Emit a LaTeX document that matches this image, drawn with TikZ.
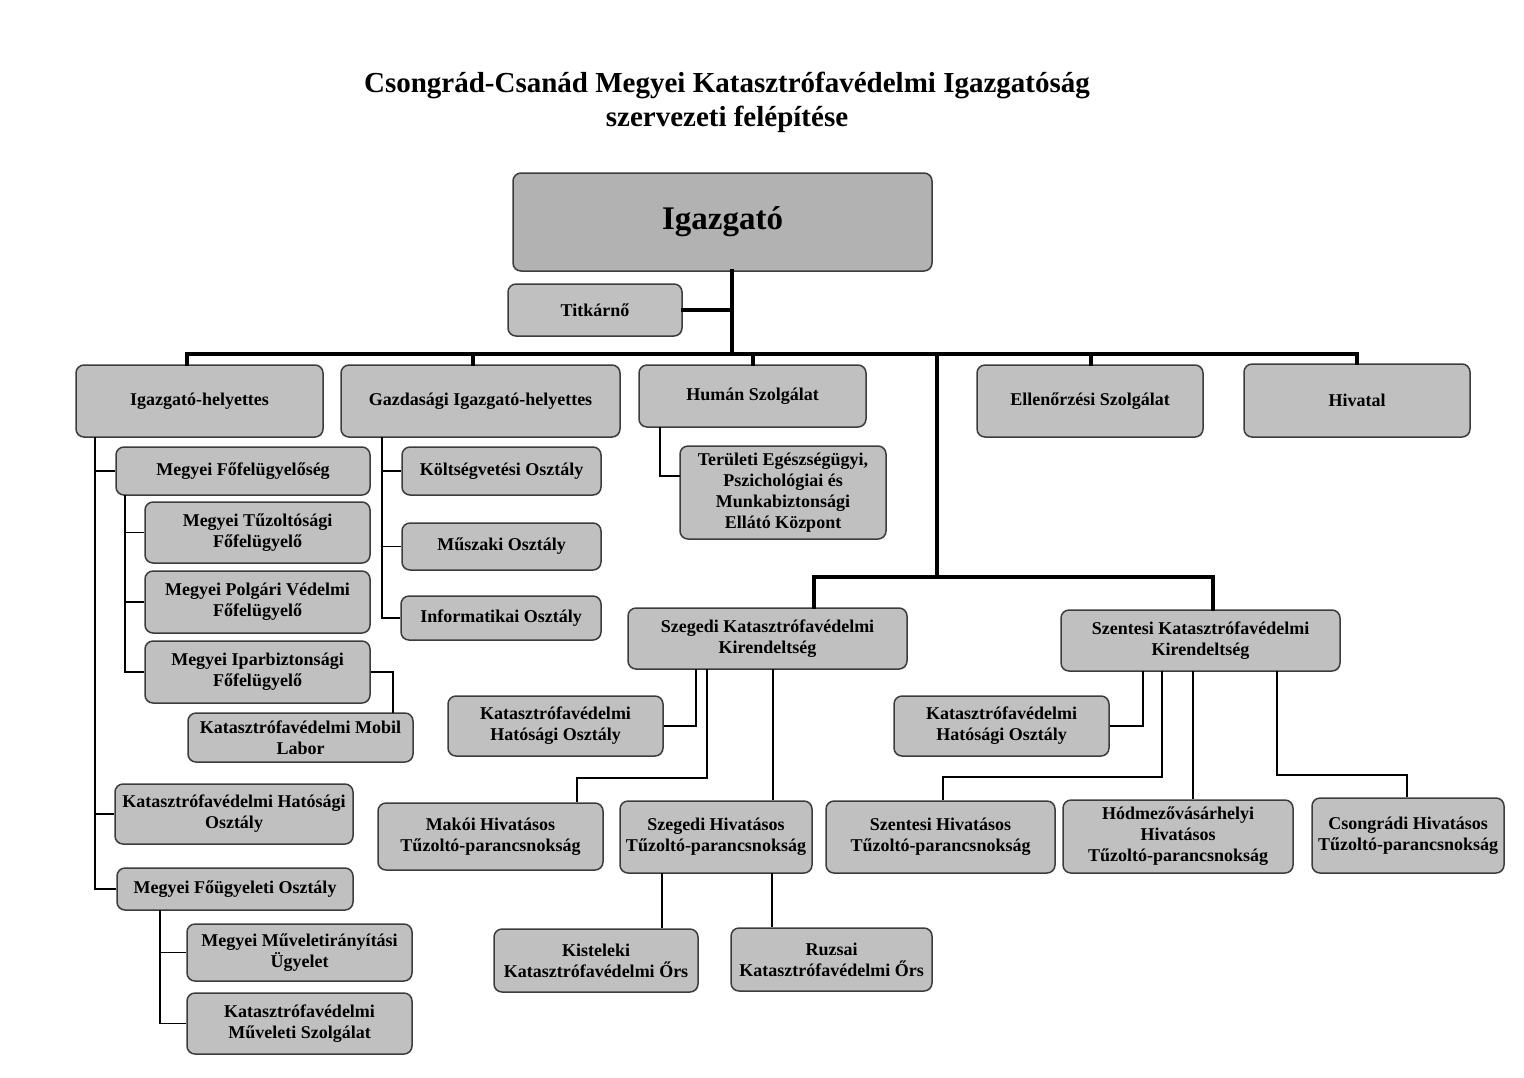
\documentclass[tikz,border=0pt]{standalone}
\usepackage{fontspec}
\setmainfont{Liberation Serif}
\usetikzlibrary{calc}
\definecolor{boxfill}{HTML}{C0C0C0}
\definecolor{topfill}{HTML}{B2B2B2}
\definecolor{boxline}{HTML}{3C3C3C}
\newcommand\bx[7][]{\node[box,#1,minimum width={(#5-#3)*0.5pt},minimum height={(#6-#4)*0.5pt}] (#2) at ({(#3+#5)/2},{(#4+#6)/2}) {#7};}
\begin{document}
\begin{tikzpicture}[x=0.5pt,y=-0.5pt,
  box/.style={draw=boxline,line width=0.75pt,fill=boxfill,rounded corners=4pt,align=center,inner sep=1pt,
    font=\bfseries\fontsize{9}{10.5}\selectfont},
  topbox/.style={fill=topfill,font=\bfseries\fontsize{16.5}{19}\selectfont},
  thin/.style={draw=black,line width=0.65pt},
  thick/.style={draw=black,line width=2.2pt,line cap=rect}]
\useasboundingbox (0,0) rectangle (1524,1077);
\node[align=center,font=\bfseries\fontsize{14.5}{17}\selectfont] (title) at (727,102)
  {Csongrád-Csanád Megyei Katasztrófavédelmi Igazgatóság\\szervezeti felépítése};
% boxes
\bx[topbox]{ig}{513}{173}{932}{271}{Igazgató}
\bx{tit}{508}{284}{682}{336}{Titkárnő}
\bx{ih}{76}{365}{323}{437}{Igazgató-helyettes}
\bx{gih}{341}{365}{620}{437}{Gazdasági Igazgató-helyettes}
\bx{hum}{639}{365}{866}{427}{Humán Szolgálat}
\bx{ell}{977}{365}{1203}{437}{Ellenőrzési Szolgálat}
\bx{hiv}{1244}{364}{1470}{437}{Hivatal}
\bx{mf}{116}{447}{370}{495}{Megyei Főfelügyelőség}
\bx{mtf}{145}{502}{370}{563}{Megyei Tűzoltósági\\Főfelügyelő}
\bx{mpv}{145}{571}{370}{633}{Megyei Polgári Védelmi\\Főfelügyelő}
\bx{mip}{145}{641}{370}{703}{Megyei Iparbiztonsági\\Főfelügyelő}
\bx{kml}{188}{713}{413}{762}{Katasztrófavédelmi Mobil\\Labor}
\bx{kho}{115}{784}{353}{844}{Katasztrófavédelmi Hatósági\\Osztály}
\bx{mfo}{117}{868}{353}{910}{Megyei Főügyeleti Osztály}
\bx{mmu}{187}{924}{412}{981}{Megyei Műveletirányítási\\Ügyelet}
\bx{kms}{187}{993}{412}{1054}{Katasztrófavédelmi\\Műveleti Szolgálat}
\bx{kolt}{402}{447}{601}{495}{Költségvetési Osztály}
\bx{musz}{402}{523}{601}{570}{Műszaki Osztály}
\bx{info}{401}{596}{601}{640}{Informatikai Osztály}
\bx{teru}{680}{446}{886}{539}{Területi Egészségügyi,\\Pszichológiai és\\Munkabiztonsági\\Ellátó Központ}
\bx{szk}{628}{608}{907}{669}{Szegedi Katasztrófavédelmi\\Kirendeltség}
\bx{szkh}{448}{696}{663}{756}{Katasztrófavédelmi\\Hatósági Osztály}
\bx{mak}{378}{803}{603}{870}{Makói Hivatásos\\Tűzoltó-parancsnokság}
\bx{szh}{620}{801}{812}{873}{Szegedi Hivatásos\\Tűzoltó-parancsnokság}
\bx{kis}{494}{929}{698}{992}{Kisteleki\\Katasztrófavédelmi Őrs}
\bx{ruz}{731}{928}{932}{991}{Ruzsai\\Katasztrófavédelmi Őrs}
\bx{stk}{1061}{610}{1340}{671}{Szentesi Katasztrófavédelmi\\Kirendeltség}
\bx{stkh}{894}{696}{1109}{756}{Katasztrófavédelmi\\Hatósági Osztály}
\bx{sth}{826}{801}{1055}{873}{Szentesi Hivatásos\\Tűzoltó-parancsnokság}
\bx{hod}{1063}{800}{1293}{873}{Hódmezővásárhelyi\\Hivatásos\\Tűzoltó-parancsnokság}
\bx{cso}{1312}{798}{1504}{873}{Csongrádi Hivatásos\\Tűzoltó-parancsnokság}
% thick connectors
\coordinate (t1) at (732,271);
\coordinate (bus) at (732,354);
\coordinate (busL) at (187,354);
\coordinate (busR) at (1357,354);
\coordinate (vR) at (937,354);
\coordinate (vRb) at (937,577);
\coordinate (hL) at (814,577);
\coordinate (hR) at (1213,577);
\draw[thick] (t1) -- (bus);
\draw[thick,line width=1.6pt] (tit.east) -- (tit.east -| t1);
\draw[thick] (busL) -- (busR);
\draw[thick] (busL) -- (busL |- ih.north);
\draw[thick] (473,354) coordinate (d2) -- (d2 |- gih.north);
\draw[thick] (753,354) coordinate (d3) -- (d3 |- hum.north);
\draw[thick] (1091,354) coordinate (d4) -- (d4 |- ell.north);
\draw[thick] (busR) -- (busR |- hiv.north);
\draw[thick] (vR) -- (vRb);
\draw[thick] (hL) -- (hR);
\draw[thick] (hL) -- (hL |- szk.north);
\draw[thick] (hR) -- (hR |- stk.north);
% thin connectors left
\coordinate (s1) at (95,437);
\draw[thin] (s1) |- (mf.west);
\draw[thin] (s1) |- (kho.west);
\draw[thin] (s1) |- (mfo.west);
\coordinate (s2) at (125,495);
\draw[thin] (s2) |- (mtf.west);
\draw[thin] (s2) |- (mpv.west);
\draw[thin] (s2) |- (mip.west);
\coordinate (k1) at (393,713);
\draw[thin] (mip.east) -| (k1);
\coordinate (s3) at (160,910);
\draw[thin] (s3) |- (mmu.west);
\draw[thin] (s3) |- (kms.west);
\coordinate (g1) at (382,437);
\draw[thin] (g1) |- (kolt.west);
\draw[thin] (g1) |- (musz.west);
\draw[thin] (g1) |- (info.west);
\coordinate (h1) at (660,427);
\coordinate (h2) at (680,476);
\draw[thin] (h1) |- (h2);
% Szeged
\coordinate (a1) at (696,669);
\draw[thin] (a1) |- (szkh.east);
\coordinate (a2) at (707,669);
\coordinate (a3) at (577,778);
\draw[thin] (a2) |- (a3) -- (a3 |- mak.north);
\coordinate (a4) at (773,669);
\draw[thin] (a4) -- (a4 |- szh.north);
\coordinate (b1) at (662,873);
\draw[thin] (b1) -- (b1 |- kis.north);
\coordinate (b2) at (772,873);
\draw[thin] (b2) -- (b2 |- ruz.north);
% Szentes
\coordinate (c1) at (1143,671);
\draw[thin] (c1) |- (stkh.east);
\coordinate (c2) at (1162,671);
\coordinate (c2b) at (943,777);
\draw[thin] (c2) |- (c2b) -- (c2b |- sth.north);
\coordinate (c3) at (1193,671);
\draw[thin] (c3) -- (c3 |- hod.north);
\coordinate (c4) at (1277,671);
\coordinate (c4b) at (1407,775);
\draw[thin] (c4) |- (c4b) -- (c4b |- cso.north);
\end{tikzpicture}
\end{document}
